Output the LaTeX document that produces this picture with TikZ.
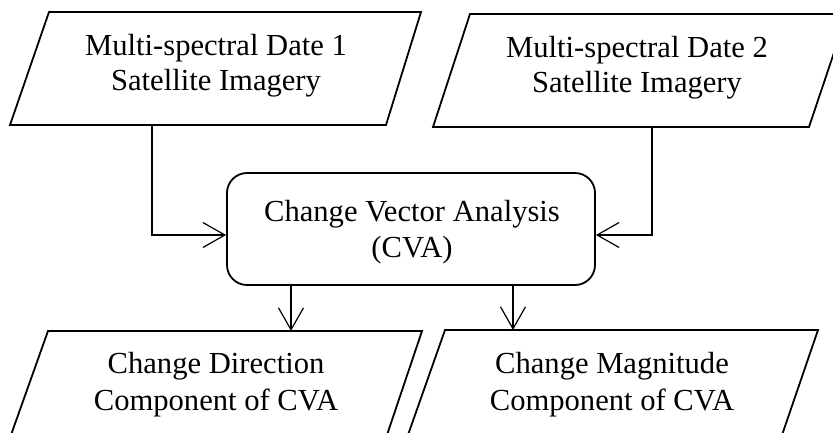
\documentclass[tikz,border=0pt]{standalone}
\usepackage{fontspec}
\setmainfont{Liberation Serif}
\usetikzlibrary{arrows.meta,calc}
\begin{document}
\begin{tikzpicture}[x=1pt,y=-1pt,
  shapeline/.style={draw=black,line width=1.8pt,line join=miter},
  procbox/.style={draw=black,line width=1.8pt,rectangle,rounded corners=20pt,
    minimum width=368pt,minimum height=112pt,inner sep=0pt},
  lbl/.style={inner sep=0pt,anchor=base,font=\fontsize{30.6pt}{35.5pt}\selectfont},
  conn/.style={draw=black,line width=1.2pt,-{Straight Barb[length=22pt,width=25pt,line width=1.2pt]}}]
\useasboundingbox (0,0) rectangle (833,432);
\clip (0,0) rectangle (833,432);
% input parallelograms
\draw[shapeline] (49,12) -- (421,12) -- (386,125) -- (10,125) -- cycle;
\draw[shapeline] (470,14) -- (847,14) -- (809,127) -- (433,127) -- cycle;
% output parallelograms (cut off by the lower edge)
\draw[shapeline] (48,331) -- (422,331) -- (385.3,440) -- (9.2,440) -- cycle;
\draw[shapeline] (445,330) -- (818,330) -- (780.3,440) -- (406.2,440) -- cycle;
% process box
\node[procbox] (cva) at (411,229) {};
% texts
\node[lbl] (a1) at (216,55) {Multi-spectral Date 1};
\node[lbl] (a2) at (216,90.5) {Satellite Imagery};
\node[lbl] (b1) at (637,57) {Multi-spectral Date 2};
\node[lbl] (b2) at (637,92.5) {Satellite Imagery};
\node[lbl] (c1) at (412,221) {Change Vector Analysis};
\node[lbl] (c2) at (412,257) {(CVA)};
\node[lbl] (d1) at (216,373) {Change Direction};
\node[lbl] (d2) at (216,410) {Component of CVA};
\node[lbl] (e1) at (612,373) {Change Magnitude};
\node[lbl] (e2) at (612,410) {Component of CVA};
% connector ends
\coordinate (Aout) at (152,126);
\coordinate (Bout) at (652,128);
\coordinate (Din) at (291,331);
\coordinate (Ein) at (513,330);
% connectors
\draw[conn] (Aout) |- (cva.west |- 0,235);
\draw[conn] (Bout) |- (cva.east |- 0,235);
\draw[conn] (cva.south -| Din) -- (Din);
\draw[conn] (cva.south -| Ein) -- (Ein);
\end{tikzpicture}
\end{document}
